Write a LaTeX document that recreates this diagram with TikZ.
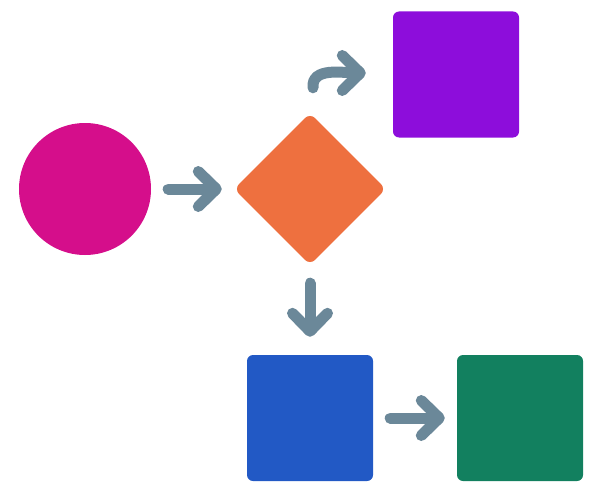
\documentclass[tikz,border=0pt]{standalone}
\usepackage{tikz}
\usetikzlibrary{arrows.meta,shapes.geometric}

\definecolor{startpink}{HTML}{D50E8B}
\definecolor{choiceorange}{HTML}{EE703F}
\definecolor{taskpurple}{HTML}{8D0DDB}
\definecolor{taskblue}{HTML}{2259C5}
\definecolor{taskgreen}{HTML}{12805F}
\definecolor{flowgray}{HTML}{6B8899}

\begin{document}
\begin{tikzpicture}[x=1pt, y=1pt,
        flow/.style={draw=flowgray, line width=11pt, line cap=round,
            -{Straight Barb[round, length=18pt, width=35pt]}},
        task/.style={rectangle, rounded corners=6pt, minimum size=126pt, inner sep=0pt}]
        \useasboundingbox (0,0) rectangle (591,491);

        % Start and decision
        \node [circle, fill=startpink, minimum size=132pt, inner sep=0pt] (start) at (85,302) {};
        \node [diamond, fill=choiceorange, rounded corners=7pt, minimum size=152pt, inner sep=0pt] (choice) at (310,302) {};
        \draw [flow, shorten <=17pt, shorten >=12pt] (start.east) -- (choice.west);

        % Upper branch
        \node [task, fill=taskpurple] (upper) at (456,416.5) {};
        \draw [flow] ([shift={(3,25)}]choice.north) to [out=95, in=180] ([shift={(-27,1.5)}]upper.west);

        % Lower branch
        \node [task, fill=taskblue] (lower) at (310,73) {};
        \node [task, fill=taskgreen] (next) at (520,73) {};
        \draw [flow, shorten <=18pt, shorten >=18pt] (choice.south) -- (lower.north);
        \draw [flow, shorten <=17pt, shorten >=12pt] (lower.east) -- (next.west);
\end{tikzpicture}
\end{document}
